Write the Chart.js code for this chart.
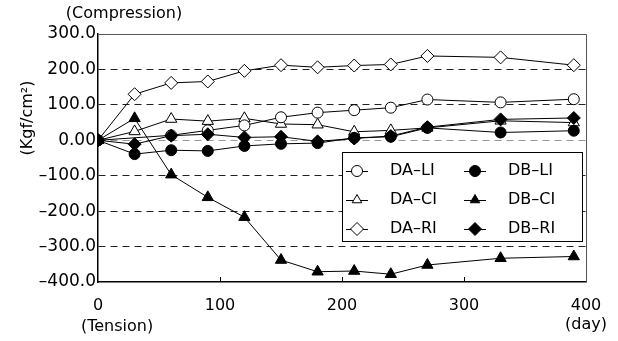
<!DOCTYPE html>
<html>
<head>
<meta charset="utf-8">
<script src="https://cdn.jsdelivr.net/npm/chart.js@4.4.1/dist/chart.umd.min.js"></script>
<style>
    html, body { margin: 0; padding: 0; background: #fff; }
</style>
</head>
<body>
<canvas id="chart" width="618" height="341"></canvas>
<script>
// elapsed days of each reading
const days = [0, 30, 60, 90, 120, 150, 180, 210, 240, 270, 330, 390];

// stress values (Kgf/cm2); null = no marker visible
const daLI = [0, null, 14, 28, 42, 65, 78, 85, 92, 115, 107, 116];
const daCI = [0, 25, 60, 54, 62, 46, 44, 24, 28, 35, 55, 50];
const daRI = [0, 130, 162, 166, 196, 212, 206, 211, 214, 238, 234, 212];
const dbLI = [0, -39, -28, -30, -16, -10, -8, 7, 10, 35, 22, 27];
const dbCI = [0, 62, -97, -161, -217, -338, -371, -369, -378, -352, -333, -328];
const dbRI = [0, -11, 13, 17, 8, 10, -3, 5, 12, 37, 59, 63];

const xTicks = [0, 100, 200, 300, 400];
const yTicks = [300, 200, 100, 0, -100, -200, -300, -400];

// legend layout: two columns of three
const legendCols = [['DA–LI', 'DA–CI', 'DA–RI'], ['DB–LI', 'DB–CI', 'DB–RI']];

const FONT = 'DejaVu Sans';

function makeSet(label, values, style, filled, order) {
    return {
        label: label,
        data: days.map((d, i) => ({ x: d, y: values[i] })),
        borderColor: '#000',
        borderWidth: 1,
        pointStyle: style,
        pointRadius: style === 'circle' ? 5.5 : 6.5,
        pointBorderColor: '#000',
        pointBorderWidth: 1,
        pointBackgroundColor: filled ? '#000' : '#fff',
        spanGaps: true,
        order: order
    };
}

const datasets = [
    makeSet('DA–LI', daLI, 'circle', false, 5),
    makeSet('DA–CI', daCI, 'triangle', false, 6),
    makeSet('DA–RI', daRI, 'rectRot', false, 4),
    makeSet('DB–LI', dbLI, 'circle', true, 2),
    makeSet('DB–CI', dbCI, 'triangle', true, 3),
    makeSet('DB–RI', dbRI, 'rectRot', true, 1)
];

function fmtY(v) {
    if (v === 0) return '0.00';
    return (v < 0 ? '–' : '') + Math.abs(v).toFixed(1);
}

const extras = {
    id: 'extras',
    beforeDatasetsDraw(chart) {
        const { ctx, chartArea: a, scales: { x } } = chart;
        ctx.save();
        // thin top/right frame
        ctx.strokeStyle = '#555';
        ctx.lineWidth = 1;
        ctx.beginPath();
        ctx.moveTo(a.left, a.top + 0.5);
        ctx.lineTo(a.right + 0.5, a.top + 0.5);
        ctx.lineTo(a.right + 0.5, a.bottom);
        ctx.stroke();
        // small inward ticks on the day axis
        ctx.strokeStyle = '#000';
        ctx.beginPath();
        xTicks.slice(1, -1).forEach(v => {
            const px = Math.round(x.getPixelForValue(v)) + 0.5;
            ctx.moveTo(px, a.bottom);
            ctx.lineTo(px, a.bottom - 5);
        });
        ctx.stroke();
        ctx.restore();
    },
    afterDatasetsDraw(chart) {
        const { ctx, chartArea: a } = chart;
        const lx = a.left + 244, ly = a.top + 118, lw = 240, lh = 89;
        ctx.save();
        ctx.fillStyle = '#fff';
        ctx.fillRect(lx, ly, lw, lh);
        ctx.strokeStyle = '#000';
        ctx.lineWidth = 1;
        ctx.strokeRect(lx + 0.5, ly + 0.5, lw, lh);

        legendCols.forEach((col, c) => {
            col.forEach((name, r) => {
                const ds = chart.data.datasets.find(d => d.label === name);
                const cx = lx + 15 + c * 118;
                const cy = ly + 19 + r * 29;
                ctx.strokeStyle = '#000';
                ctx.lineWidth = 1;
                ctx.beginPath();
                ctx.moveTo(cx - 11, cy + 0.5);
                ctx.lineTo(cx + 11, cy + 0.5);
                ctx.stroke();
                ctx.fillStyle = ds.pointBackgroundColor;
                Chart.helpers.drawPoint(ctx, {
                    pointStyle: ds.pointStyle,
                    radius: ds.pointStyle === 'triangle' ? 5.5 : ds.pointRadius,
                    borderWidth: 1,
                    rotation: 0
                }, cx, cy);
                ctx.fillStyle = '#000';
                ctx.font = '16px ' + FONT;
                ctx.textAlign = 'left';
                ctx.textBaseline = 'middle';
                ctx.fillText(name, lx + 48 + c * 118, cy);
            });
        });
        ctx.restore();
    },
    afterDraw(chart) {
        const { ctx, chartArea: a } = chart;
        ctx.save();
        ctx.fillStyle = '#000';
        ctx.textAlign = 'center';
        ctx.textBaseline = 'middle';
        ctx.font = '16px ' + FONT;
        ctx.fillText('(Compression)', a.left + 26, a.top - 20);
        ctx.fillText('(Tension)', a.left + 19, a.bottom + 45);
        ctx.fillText('(day)', a.right, a.bottom + 43);
        ctx.translate(a.left - 70, a.top + 84);
        ctx.rotate(-Math.PI / 2);
        ctx.fillText('(Kgf/cm²)', 0, 0);
        ctx.restore();
    }
};

const chart = new Chart(document.getElementById('chart').getContext('2d'), {
    type: 'line',
    data: { datasets: datasets },
    plugins: [extras],
    options: {
        responsive: false,
        devicePixelRatio: 1,
        animation: false,
        layout: { padding: { top: 34, right: 32, bottom: 0, left: 0 } },
        plugins: {
            legend: { display: false },
            tooltip: { enabled: false }
        },
        scales: {
            x: {
                type: 'linear',
                min: 0,
                max: 400,
                afterBuildTicks: s => { s.ticks = xTicks.map(v => ({ value: v })); },
                afterFit: s => { s.height = 59; },
                grid: { display: false, drawTicks: false },
                border: { display: true, color: '#000', width: 1.5 },
                ticks: {
                    color: '#000',
                    padding: 14,
                    maxRotation: 0,
                    font: { family: FONT, size: 16 },
                    callback: v => String(v)
                }
            },
            y: {
                min: -400,
                max: 300,
                afterBuildTicks: s => { s.ticks = yTicks.map(v => ({ value: v })); },
                afterFit: s => { s.width = 98; },
                grid: {
                    drawTicks: false,
                    lineWidth: 1,
                    color: c => {
                        const v = c.tick ? c.tick.value : null;
                        if (v === 300 || v === -400) return 'rgba(0,0,0,0)';
                        if (v === 0) return '#999';
                        return '#222';
                    }
                },
                border: { display: true, color: '#000', width: 1.5, dash: [7, 5] },
                ticks: {
                    color: '#000',
                    padding: 2,
                    font: { family: FONT, size: 17 },
                    callback: v => fmtY(v)
                }
            }
        }
    }
});
</script>
</body>
</html>
